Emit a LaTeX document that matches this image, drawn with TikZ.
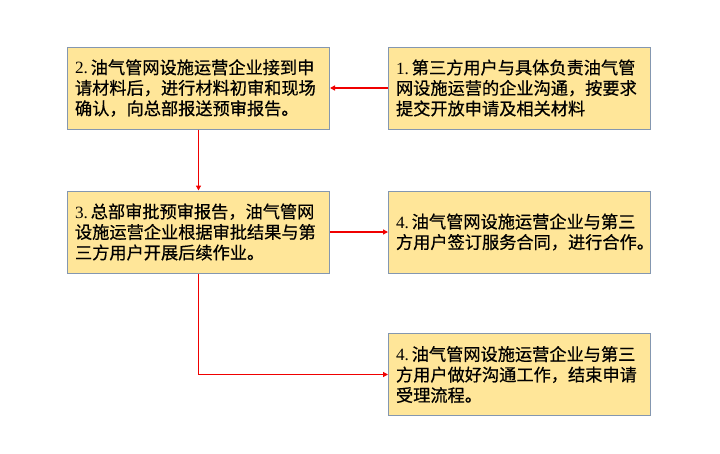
\documentclass[tikz,border=0pt]{standalone}
\usepackage{fontspec}
\setmainfont{Liberation Serif}
\newfontfamily\cjk[FakeBold=0.6]{Noto Sans CJK SC}
\usetikzlibrary{arrows.meta}
\definecolor{boxfill}{HTML}{FFE699}
\definecolor{boxline}{HTML}{8497B0}
\definecolor{arrred}{HTML}{F00000}
\begin{document}
\begin{tikzpicture}[x=1pt,y=-1pt,
  stepbox/.style={draw=boxline,fill=boxfill,line width=1pt,minimum width=262pt,minimum height=82pt,
    text width=247pt,align=left,inner sep=0pt,font=\fontsize{17.2}{20.5}\selectfont},
  link/.style={draw=arrred,line width=1.8pt,-{Triangle[length=5pt,width=5pt]}}]
\useasboundingbox (0,0) rectangle (720,453);
\node[stepbox] (b2) at (198.5,88) {2.\,{\cjk 油气管网设施运营企业接到申}\\{\cjk 请材料后，进行材料初审和现场}\\{\cjk 确认，向总部报送预审报告。}};
\node[stepbox] (b1) at (519.5,88) {1.\,{\cjk 第三方用户与具体负责油气管}\\{\cjk 网设施运营的企业沟通，按要求}\\{\cjk 提交开放申请及相关材料}};
\node[stepbox] (b3) at (198.5,232) {3.\,{\cjk 总部审批预审报告，油气管网}\\{\cjk 设施运营企业根据审批结果与第}\\{\cjk 三方用户开展后续作业。}};
\node[stepbox] (b4) at (519.5,232) {4.\,{\cjk 油气管网设施运营企业与第三}\\{\cjk 方用户签订服务合同，进行合作。}};
\node[stepbox] (b5) at (519.5,374.5) {4.\,{\cjk 油气管网设施运营企业与第三}\\{\cjk 方用户做好沟通工作，结束申请}\\{\cjk 受理流程。}};
\draw[link] (b1.west) -- (b2.east);
\draw[link] (b2.south) -- (b3.north);
\draw[link] (b3.east) -- (b4.west);
\draw[link] (b3.south) |- (b5.west);
\end{tikzpicture}
\end{document}
